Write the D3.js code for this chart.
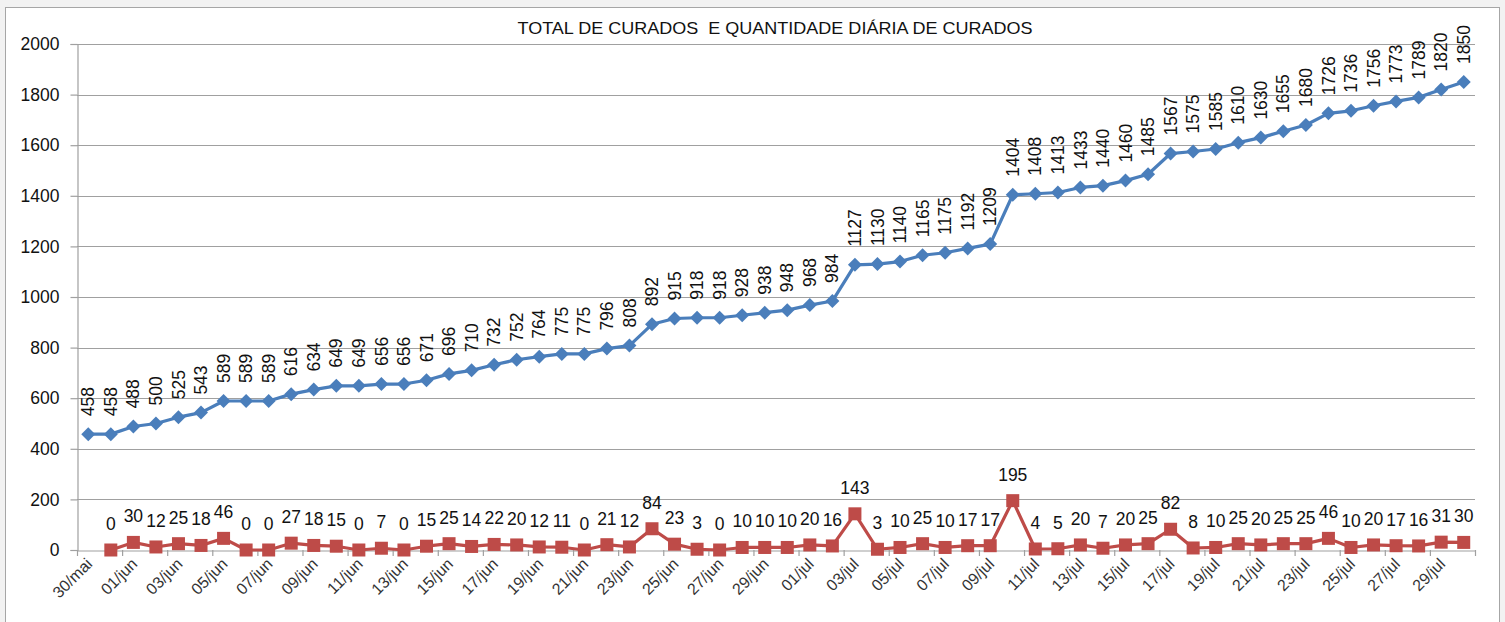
<!DOCTYPE html>
<html><head><meta charset="utf-8">
<script src="https://cdn.jsdelivr.net/npm/d3@7"></script>
<style>
html,body{margin:0;padding:0;background:#f2f2f2;}
svg{display:block;font-family:"Liberation Sans",Arial,sans-serif;}
</style></head>
<body>
<svg id="c" width="1505" height="622"></svg>
<script>
const title = "TOTAL DE CURADOS  E QUANTIDADE DIÁRIA DE CURADOS";
const dates = ["30/mai","31/mai","01/jun","02/jun","03/jun","04/jun","05/jun","06/jun","07/jun","08/jun","09/jun","10/jun","11/jun","12/jun","13/jun","14/jun","15/jun","16/jun","17/jun","18/jun","19/jun","20/jun","21/jun","22/jun","23/jun","24/jun","25/jun","26/jun","27/jun","28/jun","29/jun","30/jun","01/jul","02/jul","03/jul","04/jul","05/jul","06/jul","07/jul","08/jul","09/jul","10/jul","11/jul","12/jul","13/jul","14/jul","15/jul","16/jul","17/jul","18/jul","19/jul","20/jul","21/jul","22/jul","23/jul","24/jul","25/jul","26/jul","27/jul","28/jul","29/jul","30/jul"];
const totalCurados = [458,458,488,500,525,543,589,589,589,616,634,649,649,656,656,671,696,710,732,752,764,775,775,796,808,892,915,918,918,928,938,948,968,984,1127,1130,1140,1165,1175,1192,1209,1404,1408,1413,1433,1440,1460,1485,1567,1575,1585,1610,1630,1655,1680,1726,1736,1756,1773,1789,1820,1850];
// daily values start at the second date (31/mai)
const diarioDates = dates.slice(1);
const diarioCurados = [0,30,12,25,18,46,0,0,27,18,15,0,7,0,15,25,14,22,20,12,11,0,21,12,84,23,3,0,10,10,10,20,16,143,3,10,25,10,17,17,195,4,5,20,7,20,25,82,8,10,25,20,25,25,46,10,20,17,16,31,30];
const yTicks = [0,200,400,600,800,1000,1200,1400,1600,1800,2000];

const svg = d3.select("#c");
const L = 77, R = 1475, T = 44, B = 550;
const blue = "#4a7ebb", red = "#be4b48";

svg.append("rect").attr("x",5.5).attr("y",7.5).attr("width",1494).attr("height",620)
  .attr("fill","#fff").attr("stroke","#a6a6a6").attr("stroke-width",1);

const x = d3.scaleBand().domain(dates).range([L,R]).padding(0);
const cx = d => x(d) + x.bandwidth()/2;
const y = d3.scaleLinear().domain([0,2000]).range([B,T]);

// gridlines
svg.append("g").selectAll("line").data(yTicks.filter(v=>v>0)).join("line")
  .attr("x1",L).attr("x2",R).attr("y1",d=>Math.round(y(d))+0.5).attr("y2",d=>Math.round(y(d))+0.5)
  .attr("stroke","#a0a0a0").attr("stroke-width",1.2);

// y axis
const yAxis = d3.axisLeft(y).tickValues(yTicks).tickSize(7).tickPadding(11).tickFormat(d3.format("d"));
const gy = svg.append("g").attr("transform",`translate(${L+0.5},0)`).call(yAxis);
gy.select(".domain").attr("stroke","#a0a0a0").attr("stroke-width",1.2);
gy.selectAll(".tick line").attr("stroke","#a0a0a0").attr("stroke-width",1.2);
gy.selectAll(".tick text").attr("font-size",17.5).attr("fill","#111").attr("font-family","Liberation Sans, Arial, sans-serif");

// x axis
const xAxis = d3.axisBottom(x).tickSize(0).tickFormat("");
const gx = svg.append("g").attr("transform",`translate(0,${B+0.5})`).call(xAxis);
gx.select(".domain").attr("stroke","#a0a0a0").attr("stroke-width",1.2);
gx.selectAll(".tick").remove();
// tick marks every 2 categories at boundaries
const bounds = dates.filter((d,i)=>i%2===0).map(d=>x(d)).concat([R]);
svg.append("g").selectAll("line").data(bounds).join("line")
  .attr("x1",d=>d+0.5).attr("x2",d=>d+0.5).attr("y1",B).attr("y2",B+6)
  .attr("stroke","#a0a0a0").attr("stroke-width",1.2);
// x labels
svg.append("g").selectAll("text").data(dates.filter((d,i)=>i%2===0)).join("text")
  .attr("transform",d=>`translate(${cx(d)+1},${B+11}) rotate(-45)`)
  .attr("text-anchor","end").attr("dy","0.35em")
  .attr("font-size",16).attr("fill","#333").text(d=>d);

// title
svg.append("text").attr("x",775).attr("y",34).attr("text-anchor","middle")
  .attr("xml:space","preserve").style("white-space","pre")
  .attr("font-size",17).attr("fill","#111")
  .attr("textLength",515).attr("lengthAdjust","spacingAndGlyphs").text(title);

// blue line
const lineB = d3.line().x((d,i)=>cx(dates[i])).y(d=>y(d));
svg.append("path").datum(totalCurados).attr("d",lineB).attr("fill","none")
  .attr("stroke",blue).attr("stroke-width",3.2).attr("stroke-linejoin","round");
svg.append("g").selectAll("path").data(totalCurados).join("path")
  .attr("transform",(d,i)=>`translate(${cx(dates[i])},${y(d)})`)
  .attr("d","M0,-7L7,0L0,7L-7,0Z").attr("fill",blue);
svg.append("g").selectAll("text").data(totalCurados).join("text")
  .attr("transform",(d,i)=>`translate(${cx(dates[i])},${y(d)-18}) rotate(-90)`)
  .attr("dy","0.35em").attr("font-size",17.5).attr("fill","#111").text(d=>d);

// red line
const lineR = d3.line().x((d,i)=>cx(diarioDates[i])).y(d=>y(d));
svg.append("path").datum(diarioCurados).attr("d",lineR).attr("fill","none")
  .attr("stroke",red).attr("stroke-width",3.2).attr("stroke-linejoin","round");
svg.append("g").selectAll("rect").data(diarioCurados).join("rect")
  .attr("x",(d,i)=>cx(diarioDates[i])-6.5).attr("y",d=>y(d)-6.5)
  .attr("width",13).attr("height",13).attr("fill",red);
svg.append("g").selectAll("text").data(diarioCurados).join("text")
  .attr("x",(d,i)=>cx(diarioDates[i])).attr("y",d=>y(d)-20)
  .attr("text-anchor","middle").attr("font-size",17.5).attr("fill","#111").text(d=>d);
</script>
</body></html>
